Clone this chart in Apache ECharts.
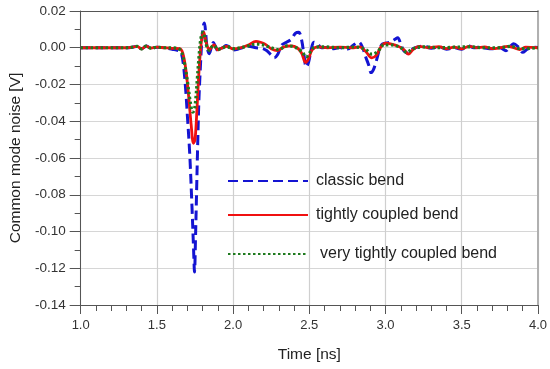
<!DOCTYPE html>
<html>
<head>
<meta charset="utf-8">
<script src="https://cdn.jsdelivr.net/npm/echarts@6/dist/echarts.min.js"></script>
<style>html,body{margin:0;padding:0;background:#fff}#c{width:550px;height:369px}</style>
</head>
<body>
<div id="c"></div>
<script>
// Time axis values [ns] and common mode noise [V]
var classicT = [1.0,1.3,1.34,1.37,1.40,1.43,1.46,1.50,1.55,1.60,1.64,1.66,1.675,1.69,1.70,1.715,1.73,1.74,1.747,1.753,1.76,1.767,1.775,1.785,1.795,1.805,1.812,1.82,1.83,1.843,1.857,1.87,1.885,1.903,1.92,1.935,1.955,1.975,2.0,2.03,2.06,2.1,2.15,2.19,2.22,2.25,2.27,2.29,2.32,2.35,2.38,2.41,2.43,2.45,2.465,2.48,2.495,2.51,2.53,2.555,2.58,2.62,2.66,2.70,2.75,2.79,2.825,2.85,2.87,2.89,2.905,2.92,2.94,2.96,2.98,3.03,3.06,3.08,3.10,3.12,3.15,3.18,3.22,3.25,3.30,3.35,3.40,3.45,3.50,3.54,3.58,3.62,3.66,3.70,3.75,3.79,3.82,3.84,3.87,3.90,3.93,3.97,4.0];
var classicV = [0,0,0.0003,0.0008,-0.0006,0.0009,-0.0002,0.0003,0,-0.0008,-0.0015,-0.003,-0.01,-0.024,-0.037,-0.057,-0.086,-0.108,-0.122,-0.105,-0.08,-0.055,-0.03,-0.011,0.004,0.012,0.0135,0.008,0.0,-0.0032,0.0,0.0028,0.0005,-0.002,-0.0005,0.0002,0.0012,0.0005,-0.0012,-0.0008,0,0.0008,0,-0.0003,-0.0015,-0.004,-0.0055,-0.004,0.0015,0.003,0.0045,0.008,0.0085,0.004,-0.004,-0.0105,-0.008,-0.002,0.003,0.002,0.0,0.0002,-0.0005,0.0001,-0.0007,0.0015,0.003,0.0,-0.005,-0.0095,-0.0135,-0.012,-0.007,-0.001,0.002,0.003,0.0045,0.0055,0.002,-0.0016,-0.003,-0.0005,0.0006,0.001,-0.0003,0.0005,-0.0008,0.0,-0.0008,0.0012,0.0,0.0003,-0.0003,-0.0006,0.0,-0.0016,0.0008,0.0022,0.0005,-0.0025,-0.0008,0.0003,0.0002];

var tightT = [1.0,1.3,1.34,1.37,1.40,1.43,1.46,1.50,1.55,1.60,1.65,1.67,1.69,1.71,1.725,1.74,1.75,1.76,1.77,1.78,1.79,1.80,1.807,1.815,1.83,1.845,1.86,1.875,1.9,1.93,1.96,2.0,2.05,2.1,2.15,2.18,2.21,2.25,2.29,2.33,2.38,2.42,2.45,2.475,2.495,2.52,2.56,2.62,2.7,2.78,2.83,2.87,2.91,2.94,2.97,3.0,3.04,3.08,3.12,3.15,3.18,3.22,3.28,3.35,3.4,3.45,3.5,3.55,3.6,3.65,3.7,3.75,3.8,3.84,3.88,3.92,4.0];
var tightV = [0,0,0.0003,0.0008,-0.0006,0.0009,-0.0002,0.0003,0,-0.0003,-0.0005,-0.003,-0.012,-0.028,-0.042,-0.052,-0.05,-0.038,-0.022,-0.008,0.002,0.007,0.0085,0.006,0.001,-0.001,0.0005,0.0015,-0.0012,0,0.0008,-0.0006,0.0,0.0015,0.0035,0.003,0.002,-0.0005,-0.0015,0.0003,0.001,0.0,-0.003,-0.008,-0.006,-0.001,0.0005,0,0.0003,0.0,0.0005,-0.002,-0.0055,-0.004,0.0005,0.0025,0.002,0.001,-0.001,-0.0035,-0.001,0.0008,0.0,0.0006,-0.0005,0.0003,-0.0006,0.0008,0,0.0005,-0.0005,0.0,0.0008,0.0,-0.001,0.0003,0.0];

var veryT = [1.0,1.3,1.34,1.37,1.40,1.43,1.46,1.50,1.55,1.60,1.64,1.66,1.68,1.70,1.72,1.735,1.745,1.755,1.765,1.775,1.785,1.795,1.805,1.815,1.83,1.845,1.86,1.875,1.9,1.93,1.96,2.0,2.05,2.1,2.15,2.2,2.25,2.3,2.35,2.4,2.45,2.48,2.5,2.53,2.6,2.7,2.8,2.87,2.91,2.95,2.99,3.04,3.1,3.14,3.18,3.25,3.35,3.45,3.55,3.65,3.75,3.82,3.88,4.0];
var veryV = [0,0,0.0003,0.0008,-0.0006,0.0009,-0.0002,0.0003,0,0,-0.0005,-0.002,-0.008,-0.018,-0.03,-0.035,-0.034,-0.028,-0.017,-0.006,0.003,0.0075,0.0085,0.005,0.0,-0.0015,0.0005,0.0012,-0.001,0.0,0.0005,-0.0005,0.0,0.001,0.002,0.0015,0.0,-0.001,0.001,0.0005,-0.002,-0.005,-0.003,0.0,0.0005,0.0,0.0004,-0.001,-0.0035,-0.002,0.0015,0.0015,0.0,-0.0025,-0.0005,0.0005,0.0,0.0003,0.0005,0.0,0.0,0.0008,-0.0005,0.0];

var seriesNames = ['classic bend','tightly coupled bend','very tightly coupled bend'];
var xTicks = {min:1.0, max:4.0, step:0.5};
var yTicks = {min:-0.14, max:0.02, step:0.02};

function pairs(t, v){ return t.map(function(x,i){ return [x, v[i]]; }); }

var font = '"Liberation Sans", Arial, sans-serif';
function legendAt(name, top, pad){
  return {data:[name], left:222, top:top, orient:'vertical', itemWidth:80, itemHeight:14, itemGap:0,
    itemStyle:{opacity:0},
    textStyle:{fontFamily:font, fontSize:16, color:'#222', padding:[0,0,0,pad]}};
}
var chart = echarts.init(document.getElementById('c'), null, {renderer:'canvas'});
chart.setOption({
  animation:false,
  backgroundColor:'#ffffff',
  grid:{left:76, right:10, top:11, bottom:64, containLabel:false},
  legend:[
    legendAt(seriesNames[0], 168, 3),
    legendAt(seriesNames[1], 202, 3),
    legendAt(seriesNames[2], 241, 7)
  ],
  xAxis:[{
    type:'value', min:xTicks.min, max:xTicks.max, interval:xTicks.step,
    name:'Time [ns]', nameLocation:'middle', nameGap:42,
    nameTextStyle:{fontFamily:font, fontSize:15.5, color:'#222'},
    axisLine:{show:true, onZero:false, lineStyle:{color:'#555', width:1}},
    axisTick:{show:true, length:9, lineStyle:{color:'#555'}},
    minorTick:{show:true, splitNumber:5, length:6, lineStyle:{color:'#555'}},
    axisLabel:{fontFamily:font, fontSize:13, color:'#333', margin:14,
      formatter:function(v){return v.toFixed(1);}},
    splitLine:{show:true, lineStyle:{color:'#cfcfcf', width:1.2}}
  },{
    type:'value', position:'top', min:xTicks.min, max:xTicks.max,
    axisLine:{show:true, onZero:false, lineStyle:{color:'#555', width:1.2}},
    axisTick:{show:false}, axisLabel:{show:false}, splitLine:{show:false}
  }],
  yAxis:[{
    type:'value', min:yTicks.min, max:yTicks.max, interval:yTicks.step,
    name:'Common mode noise [V]', nameLocation:'middle', nameGap:56, nameRotate:90,
    nameTextStyle:{fontFamily:font, fontSize:15.5, color:'#222'},
    axisLine:{show:true, onZero:false, lineStyle:{color:'#555', width:1}},
    axisTick:{show:true, length:11, lineStyle:{color:'#555'}},
    minorTick:{show:true, splitNumber:2, length:6, lineStyle:{color:'#555'}},
    axisLabel:{fontFamily:font, fontSize:13.5, color:'#333', margin:15,
      formatter:function(v){ var s=v.toFixed(2); return s==='-0.00'?'0.00':s; }},
    splitLine:{show:true, lineStyle:{color:'#d6d6d6', width:1}}
  },{
    type:'value', position:'right', min:yTicks.min, max:yTicks.max,
    axisLine:{show:true, onZero:false, lineStyle:{color:'#b0b0b0', width:2}},
    axisTick:{show:false}, axisLabel:{show:false}, splitLine:{show:false}
  }],
  series:[
    {name:seriesNames[0], type:'line', data:pairs(classicT, classicV), symbol:'none', smooth:0.35,
     color:'#1414d2', lineStyle:{color:'#1414d2', width:3, type:[10,5]}},
    {name:seriesNames[1], type:'line', data:pairs(tightT, tightV), symbol:'none', smooth:0.35,
     color:'#f01010', lineStyle:{color:'#f01010', width:2.8, type:'solid'}},
    {name:seriesNames[2], type:'line', data:pairs(veryT, veryV), symbol:'none', smooth:0.35,
     color:'#1e7a1e', lineStyle:{color:'#1e7a1e', width:3.2, type:[2.5,2.5]}}
  ]
});
</script>
</body>
</html>
